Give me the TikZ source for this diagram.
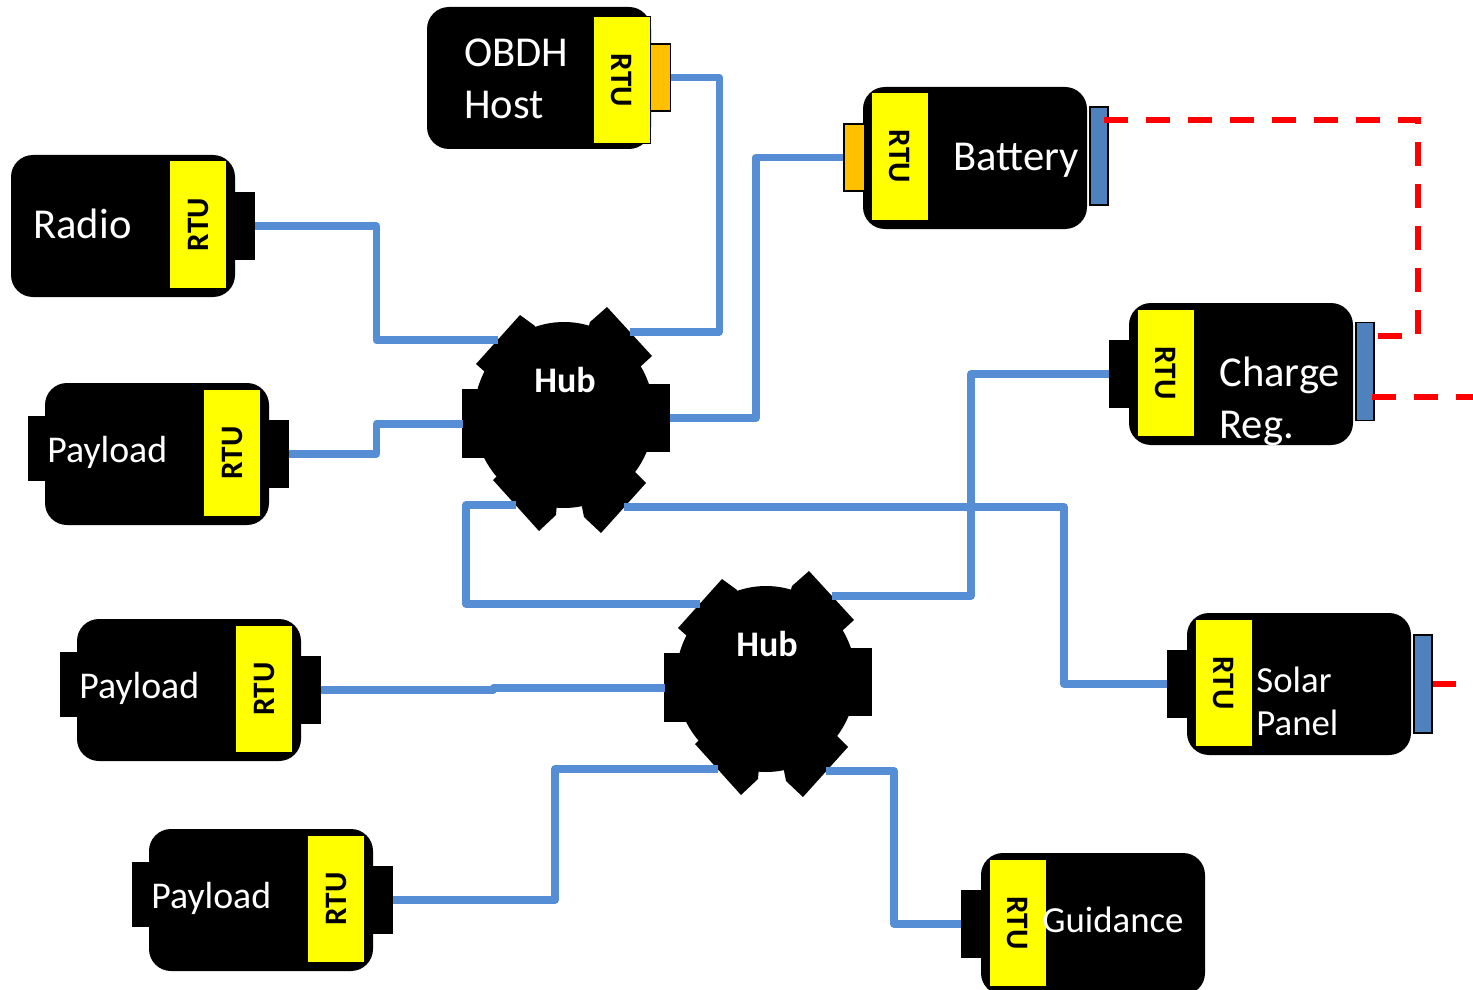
\documentclass[tikz,border=0pt]{standalone}
\usepackage{fontspec}
\setmainfont{Carlito}
\usetikzlibrary{shapes.geometric}
\definecolor{busblue}{HTML}{558ED5}
\definecolor{portblue}{HTML}{4F81BD}
\definecolor{portorange}{HTML}{FFC000}
\definecolor{powerred}{HTML}{FF0000}
\definecolor{rtuyellow}{HTML}{FFFF00}
\newcommand\rtulabel{\raisebox{-0.5pt}{RTU}}
\tikzset{
  body/.style={fill=black,rounded corners=11pt,minimum width=112pt,minimum height=71pt,inner sep=0pt},
  rtubase/.style={fill=rtuyellow,draw=black,line width=0.5pt,minimum width=63.5pt,minimum height=28.5pt,inner sep=0pt,font=\fontsize{15.6pt}{15.6pt}\selectfont\bfseries,text=black},
  rtuL/.style={rtubase,rotate=90},
  rtuR/.style={rtubase,rotate=-90},
  portK/.style={fill=black,minimum width=10pt,minimum height=34pt,inner sep=0pt},
  stubK/.style={fill=black,minimum width=10pt,minimum height=32.5pt,inner sep=0pt},
  portO/.style={fill=portorange,draw=black,line width=0.7pt,minimum width=10.5pt,minimum height=33.5pt,inner sep=0pt},
  portB/.style={fill=portblue,draw=black,line width=0.8pt,minimum width=9pt,minimum height=49pt,inner sep=0pt},
  bigtxt/.style={anchor=base west,inner sep=0pt,text=white,align=left,font=\fontsize{21.3pt}{26pt}\selectfont},
  smalltxt/.style={anchor=base west,inner sep=0pt,text=white,align=left,font=\fontsize{18.4pt}{21.5pt}\selectfont},
  paytxt/.style={smalltxt,font=\fontsize{18.9pt}{21.5pt}\selectfont},
  hubtxt/.style={inner sep=0pt,text=white,font=\fontsize{18pt}{18pt}\selectfont\bfseries},
  hubcore/.style={ellipse,fill=black,minimum width=90pt,minimum height=93pt,inner sep=0pt},
  hubtab/.style={fill=black},
  bus/.style={draw=busblue,line width=3.7pt,line join=round},
  power/.style={draw=powerred,line width=3pt},
  powerdash/.style={power,dash pattern=on 12pt off 9pt},
  gear/.pic={
    \node[hubcore] (-c) at (0,0) {};
    \fill[hubtab] (-102,-26) rectangle (-55,43);
    \fill[hubtab] (55,-31) rectangle (106,37);
    \fill[hubtab] (-44,-100) -- (-88,-51) -- (-79,-43) -- (0,0) -- (-29,-89) -- cycle;
    \fill[hubtab] (26,-93) -- (43,-108) -- (88,-59) -- (76,-48) -- (0,0) -- cycle;
    \fill[hubtab] (71,57) -- (82,68) -- (37,118) -- (20,102) -- (0,0) -- cycle;
    \fill[hubtab] (-66,60) -- (-71,65) -- (-25,116) -- (-8,100) -- (0,0) -- cycle;
    \node[hubtxt] (-t) at (1,-35) {Hub};
    \coordinate (-nw) at (-66,-75);
    \coordinate (-ne) at (66,-83);
    \coordinate (-w) at (-101,9);
    \coordinate (-e) at (106,3);
    \coordinate (-sw) at (-48,90);
    \coordinate (-se) at (60,92);
  }
}
\begin{document}
\begin{tikzpicture}[x=0.5pt,y=-0.5pt]
\clip (0,0) rectangle (1473,990);

% hubs
\pic (hub1) at (564,415) {gear};
\pic (hub2) at (766,679) {gear};

% Radio
\node[body] (radio) at (123,226) {};
\node[portK] (radioP) at (245,226) {};
\node[rtuL] (radioR) at (198,224.5) {\rtulabel};
\node[bigtxt] (radioT) at (33,238) {Radio};

% OBDH
\node[body] (obdh) at (539,78) {};
\node[portO] (obdhP) at (660,77.5) {};
\node[rtuR] (obdhR) at (621.5,80.5) {\rtulabel};
\node[bigtxt] (obdhT) at (464,119) {OBDH\\Host};

% Battery
\node[body] (bat) at (975,158) {};
\node[portO] (batP) at (854.5,157.5) {};
\node[portB] (batB) at (1099,156) {};
\node[rtuR] (batR) at (899.5,156.5) {\rtulabel};
\node[bigtxt] (batT) at (953,170) {Battery};

% Charge Reg
\node[body] (chg) at (1241,374) {};
\node[stubK] (chgP) at (1119,374) [minimum height=34pt] {};
\node[portB] (chgB) at (1365,371.5) {};
\node[rtuR] (chgR) at (1165.5,373) {\rtulabel};
\node[bigtxt] (chgT) at (1219,438) {Charge\\Reg.};

% Solar Panel
\node[body] (sol) at (1299,684) {};
\node[stubK] (solP) at (1177,684) [minimum height=34pt] {};
\node[portB] (solB) at (1423,684) {};
\node[rtuR] (solR) at (1223.5,683) {\rtulabel};
\node[smalltxt] (solT) at (1256,735) {Solar\\Panel};

% Payload 1
\node[stubK] (p1L) at (37.5,448.5) {};
\node[body] (p1) at (157,454) {};
\node[portK] (p1P) at (279,454) {};
\node[rtuL] (p1R) at (232,453) {\rtulabel};
\node[paytxt] (p1T) at (47,462) {Payload};

% Payload 2
\node[stubK] (p2L) at (69.5,684.5) {};
\node[body] (p2) at (189,690) {};
\node[portK] (p2P) at (311,690) {};
\node[rtuL] (p2R) at (264,689) {\rtulabel};
\node[paytxt] (p2T) at (79,698) {Payload};

% Payload 3
\node[stubK] (p3L) at (141.5,894.5) {};
\node[body] (p3) at (261,900) {};
\node[portK] (p3P) at (383,900) {};
\node[rtuL] (p3R) at (336,899) {\rtulabel};
\node[paytxt] (p3T) at (151,908) {Payload};

% Guidance
\node[body] (gui) at (1093,924) {};
\node[stubK] (guiP) at (971,924) [minimum height=34pt] {};
\node[rtuR] (guiR) at (1017.5,923) {\rtulabel};
\node[smalltxt] (guiT) at (1042,932) {Guidance};

% data bus
\draw[bus] (radioP.east) -- ++(121,0) |- (hub1-nw);
\draw[bus] (p1P.east) -- ++(87,0) |- (hub1-w);
\draw[bus] (obdhP.east) -- ++(48,0) |- (hub1-ne);
\draw[bus] (hub1-e) -- ++(86,0) |- (batP.west);
\draw[bus] (hub1-sw) -- ++(-50,0) |- (hub2-nw);
\draw[bus] (hub1-se) -- ++(440,0) |- (solP.west);
\draw[bus] (hub2-ne) -- ++(139,0) |- (chgP.west);
\draw[bus] (p2P.east) -- ++(172,0) |- (hub2-w);
\draw[bus] (hub2-sw) -- ++(-163,0) |- (p3P.east);
\draw[bus] (hub2-se) -- ++(68,0) |- (guiP.west);

% power
\coordinate (batRed) at (1104,120);
\coordinate (chgRedA) at (1378,336);
\coordinate (chgRedB) at (1372,397);
\coordinate (outRedA) at (1473,397);
\coordinate (outRedB) at (1456,684);
\draw[powerdash] (batRed) -- ++(314,0) |- (chgRedA);
\draw[powerdash] (chgRedB) -- (outRedA);
\draw[power] (solB.east) -- (outRedB);
\end{tikzpicture}
\end{document}
